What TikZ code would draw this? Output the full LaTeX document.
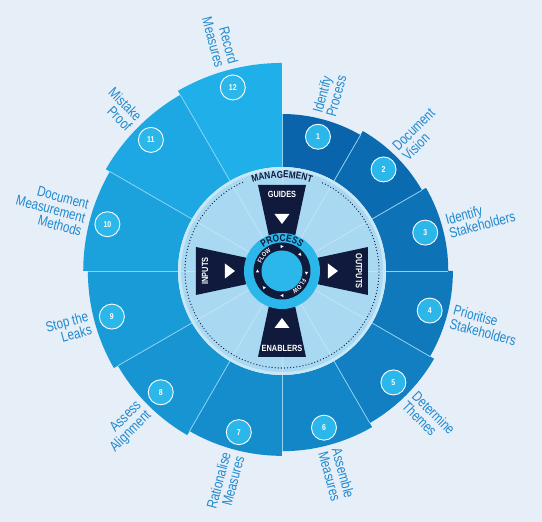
\documentclass[tikz,border=0pt]{standalone}
\usepackage{fontspec}
\usepackage{xcolor}
\usetikzlibrary{decorations.text}

\setmainfont{Liberation Sans}
\newfontfamily\labelfont[FakeStretch=0.8]{Liberation Sans}
\newfontfamily\boxfont[FakeStretch=0.82]{Liberation Sans}

\definecolor{bgcol}{HTML}{E6EEF8}
\definecolor{segA}{HTML}{0964AB}
\definecolor{segB}{HTML}{1FB0E9}
\definecolor{disc}{HTML}{A8D8F2}
\definecolor{discrim}{HTML}{C8E8F8}
\definecolor{navy}{HTML}{0F1A3C}
\definecolor{cyanc}{HTML}{2BB7EA}
\definecolor{labelblue}{HTML}{1F89CF}
\definecolor{sepline}{HTML}{8FD3F3}

\newcommand{\mgmtfont}{\boxfont\bfseries\fontsize{10}{10}\selectfont\color{navy}}
\newcommand{\procfont}{\boxfont\bfseries\fontsize{10}{10}\selectfont\color{navy}}
\newcommand{\flowfont}{\boxfont\bfseries\fontsize{6.5}{6.5}\selectfont\color{white}}

\tikzset{
  numcirc/.style={circle, fill=cyanc, draw=white, line width=0.9pt, minimum size=25pt, inner sep=0pt, text=white, font=\boxfont\bfseries\fontsize{8.5}{9}\selectfont},
  steplabel/.style={text=labelblue, inner sep=0pt, font=\labelfont\fontsize{14.5}{14}\selectfont},
  boxtext/.style={text=white, inner sep=0pt, font=\boxfont\bfseries\fontsize{9}{9}\selectfont},
}

\begin{document}
\begin{tikzpicture}[x=1pt, y=1pt]
    % Background
    \fill[bgcol] (-282,-251) rectangle (260,271);
    \useasboundingbox (-282,-251) rectangle (260,271);

    % Spiral of steps
    \foreach \k in {1,...,12}{
        \pgfmathsetmacro{\angstart}{90-30*(\k-1)}
        \pgfmathsetmacro{\angend}{90-30*\k}
        \pgfmathsetmacro{\outr}{157+4.64*(\k-1)}
        \pgfmathtruncatemacro{\mixval}{100*(\k-1)/11}
        \colorlet{segcol}{segB!\mixval!segA}
        \fill[segcol] (\angstart:104) -- (\angstart:\outr) arc[start angle=\angstart, end angle=\angend, radius=\outr] -- (\angend:104) arc[start angle=\angend, end angle=\angstart, radius=104] -- cycle;
    }
    % Separators
    \foreach \k in {1,...,12}{
        \pgfmathsetmacro{\sepr}{(\k<12)*(157+4.64*(\k-1)) + (\k==12)*157}
        \draw[sepline, line width=0.8pt] (90-30*\k:104) -- (90-30*\k:\sepr);
    }

    % Management disc
    \fill[discrim] (0,0) circle[radius=104];
    \fill[disc] (0,0) circle[radius=101];
    \foreach \a in {0,30,...,330}
        \draw[white, opacity=0.3, line width=0.8pt] (\a:38) -- (\a:101);
    \draw[navy, line width=1.3pt, line cap=round, dash pattern=on 0pt off 3.1pt] (114:97) arc[start angle=114, end angle=426, radius=97];
    \path[decorate, decoration={text along path, text align=center, text={|\mgmtfont|MANAGEMENT}}] (114:93) arc[start angle=114, end angle=66, radius=93];

    % Guides, outputs, inputs, enablers
    \foreach \d/\nm/\txt/\trot/\tb/\tt in {90/guides/GUIDES/0/57/47, 0/outputs/OUTPUTS/-90/46/56, 180/inputs/INPUTS/90/57/47, 270/enablers/ENABLERS/0/57/47}{
        \fill[navy, rotate=\d-90] (-24,86) -- (24,86) -- (12,30) -- (-12,30) -- cycle;
        \fill[white, rotate=\d-90] (-7.5,\tb) -- (7.5,\tb) -- (0,\tt) -- cycle;
        \node[boxtext, rotate=\trot] (\nm) at (\d:77) {\txt};
    }

    % Process flow
    \fill[cyanc] (0,0) circle[radius=38];
    \fill[navy] (0,0) circle[radius=28.5];
    \fill[cyanc] (0,0) circle[radius=20.5];
    \path[decorate, decoration={text along path, text align=center, text={|\procfont|PROCESS}}] (155:29.5) arc[start angle=155, end angle=25, radius=29.5];
    \path[decorate, decoration={text along path, text align=center, text={|\flowfont|FLOW}}] (178:21.8) arc[start angle=178, end angle=102, radius=21.8];
    \path[decorate, decoration={text along path, text align=center, text={|\flowfont|FLOW}}] (-4:21.8) arc[start angle=-4, end angle=-80, radius=21.8];
    \foreach \a in {90,42,-5,-90,-138,180}
        \fill[white, shift={(\a:24.5)}, rotate=\a-90] (-1.3,-1.6) -- (1.6,0) -- (-1.3,1.6) -- cycle;

    % Step numbers and labels
    \foreach \k/\txt in {1/{Identify\\Process}, 2/{Document\\Vision}, 3/{Identify\\Stakeholders}, 4/{Prioritise\\Stakeholders}, 5/{Determine\\Themes}, 6/{Assemble\\Measures}, 7/{Rationalise\\Measures}, 8/{Assess\\Alignment}, 9/{Stop the\\Leaks}, 10/{Document\\Measurement\\Methods}, 11/{Mistake\\Proof}, 12/{Record\\Measures}}{
        \pgfmathsetmacro{\midang}{75-30*(\k-1)}
        \pgfmathsetmacro{\outr}{157+4.64*(\k-1)}
        \node[numcirc] (num\k) at (\midang:\outr-18) {\k};
        \ifnum\k<7
            \node[steplabel, rotate=\midang, anchor=west, align=left] (lab\k) at (\midang:\outr+5) {\txt};
        \else
            \node[steplabel, rotate=\midang+180, anchor=east, align=right] (lab\k) at (\midang:\outr+5) {\txt};
        \fi
    }
\end{tikzpicture}
\end{document}
